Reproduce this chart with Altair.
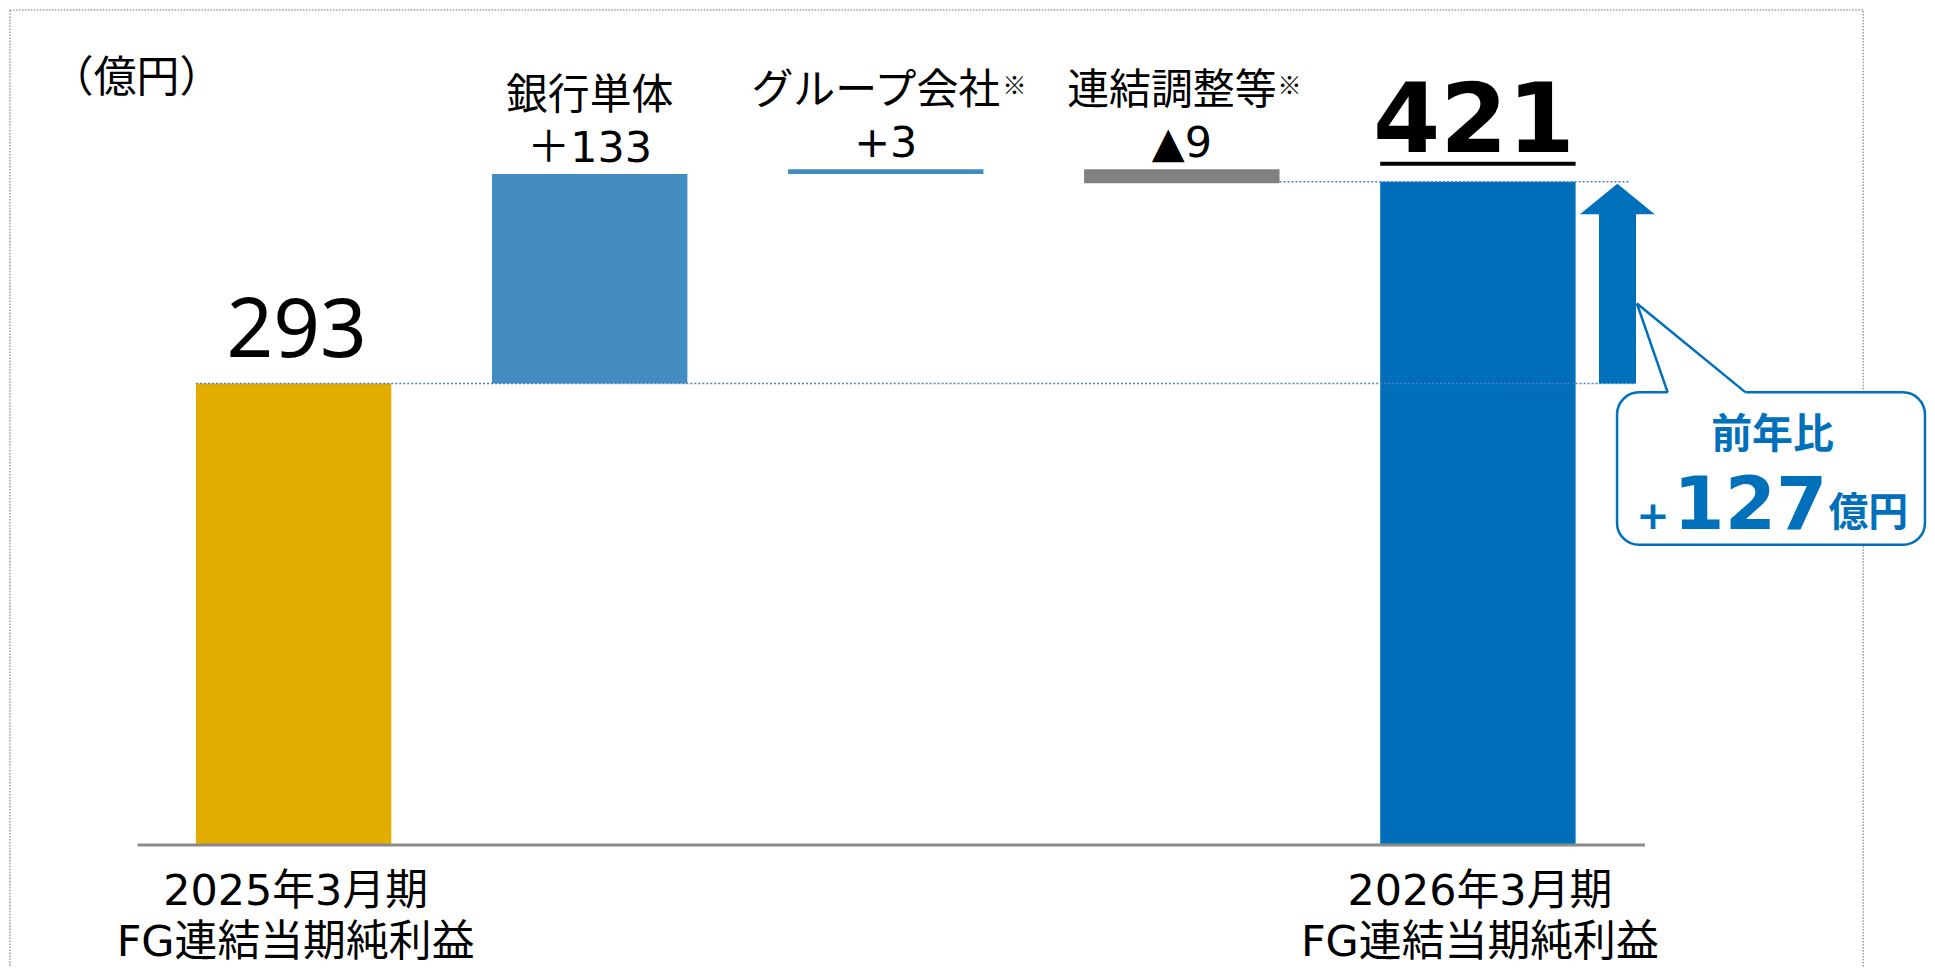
import altair as alt
import pandas as pd

# ---- data ----
categories = ["2025年3月期", "銀行単体", "グループ会社※", "連結調整等※", "2026年3月期"]
sublabels = ["FG連結当期純利益", "＋133", "+3", "▲9", "FG連結当期純利益"]
values = [293, 133, 3, -9, 421]
kinds = ["total", "delta", "delta", "delta", "total"]
bar_colors = ["#E3AC00", "#438CBF", "#438CBF", "#808080", "#006EB9"]
total_labels = ["293", "", "", "", "421"]
unit_label = "（億円）"
yoy_title = "前年比"
yoy_sign = "+"
yoy_value = "127"
yoy_unit = "億円"

# ---- build waterfall table ----
rows = []
running = 0
for i, (c, s, v, k, col, tl) in enumerate(zip(categories, sublabels, values, kinds, bar_colors, total_labels)):
    if k == "total":
        start, end = 0, v
        running = v
    else:
        start, end = running, running + v
        running += v
    note = "※" if c.endswith("※") else ""
    rows.append(dict(idx=i, xs=i - 0.330, xe=i + 0.330, start=start, end=end,
                     top=max(start, end), cat=c, main=c.rstrip("※"), note=note,
                     sub=s, color=col, kind=k, tlabel=tl))
df = pd.DataFrame(rows)
one = pd.DataFrame({"k": [0]})

base_total = values[0]
final_total = values[-1]

X = alt.Scale(domain=[-0.96465, 5.51686], nice=False, zero=False)
Y = alt.Scale(domain=[-76.58, 530.38], nice=False, zero=False)

def xq(field):
    return alt.X(field, type="quantitative", scale=X, axis=None)

def yq(field):
    return alt.Y(field, type="quantitative", scale=Y, axis=None)

def xd(v):
    return alt.XDatum(v, type="quantitative", scale=X, axis=None)

def yd(v):
    return alt.YDatum(v, type="quantitative", scale=Y, axis=None)

BLUE = "#0070BA"
CJK = "Noto Sans CJK JP"
MIX = "DejaVu Sans, Noto Sans CJK JP"
LAT = "DejaVu Sans"

border = alt.Chart(one).mark_rect(fill="transparent", stroke="#9a9a9a", strokeWidth=1.5,
                                  strokeDash=[1.5, 1.5]).encode(
    x=alt.value(2), x2=alt.value(1861), y=alt.value(0.5), y2=alt.value(1300))

bars = alt.Chart(df).mark_bar().encode(
    x=xq("xs"), x2="xe", y=yq("start"), y2="end",
    color=alt.Color("color:N", scale=None))

baseline = alt.Chart(one).mark_rule(color="#8a8a8a", strokeWidth=3).encode(
    x=xd(-0.527), x2=alt.datum(4.564), y=yd(0))

conn_low = alt.Chart(one).mark_rule(color="#4A7FCF", strokeWidth=1.5, strokeDash=[2, 2]).encode(
    x=xd(-0.330), x2=alt.datum(4.534), y=yd(base_total))
conn_high = alt.Chart(one).mark_rule(color="#4A7FCF", strokeWidth=1.5, strokeDash=[2, 2]).encode(
    x=xd(3.330), x2=alt.datum(4.510), y=yd(final_total))

shaft = alt.Chart(one).mark_bar(color=BLUE, y2Offset=32).encode(
    x=xd(4.409), x2=alt.datum(4.534), y=yd(base_total), y2=alt.datum(final_total))
head = alt.Chart(one).mark_point(shape="M-1,0.87L0,0.05L1,0.87Z", size=5625, filled=True,
                                 fill=BLUE, opacity=1, strokeWidth=0).encode(
    x=xd(4.471), y=yd(final_total))

box = alt.Chart(one).mark_rect(cornerRadius=22, fill="white", stroke=BLUE, strokeWidth=2.5).encode(
    x=xd(4.470), x2=alt.datum(5.510), y=yd(287.3), y2=alt.datum(190.5))
gap = alt.Chart(one).mark_rule(color="white", strokeWidth=5, strokeCap="butt").encode(
    x=xd(4.641), x2=alt.datum(4.904), y=yd(287.3))
side1 = alt.Chart(one).mark_rule(color=BLUE, strokeWidth=2.5).encode(
    x=xd(4.537), y=yd(343.7), x2=alt.datum(4.641), y2=alt.datum(287.3))
side2 = alt.Chart(one).mark_rule(color=BLUE, strokeWidth=2.5).encode(
    x=xd(4.537), y=yd(343.7), x2=alt.datum(4.904), y2=alt.datum(287.3))

t_title = alt.Chart(one).mark_text(font=CJK, fontSize=41, fontWeight="bold", color=BLUE,
                                   align="center", baseline="middle").encode(
    x=xd(4.995), y=yd(259.5), text=alt.value(yoy_title))
t_sign = alt.Chart(one).mark_text(font=LAT, fontSize=40, fontWeight="bold", color=BLUE,
                                  align="right", baseline="alphabetic").encode(
    x=xd(4.648), y=yd(200.6), text=alt.value(yoy_sign))
t_val = alt.Chart(one).mark_text(font=LAT, fontSize=74, fontWeight="bold", color=BLUE,
                                 align="right", baseline="alphabetic").encode(
    x=xd(5.180), y=yd(200.6), text=alt.value(yoy_value))
t_unit = alt.Chart(one).mark_text(font=CJK, fontSize=40, fontWeight="bold", color=BLUE,
                                  align="left", baseline="alphabetic").encode(
    x=xd(5.184), y=yd(202.5), text=alt.value(yoy_unit))

# top labels of the change bars (one layer per bar so the small ※ can sit after the name)
LINE1_DY = -65
top_layers = []
for r in rows:
    if r["kind"] != "delta":
        continue
    sel = alt.Chart(df).transform_filter(alt.datum.idx == r["idx"])
    shift = -10 if r["note"] else 0
    top_layers.append(sel.mark_text(font=CJK, fontSize=42, color="black", align="center",
                                    baseline="alphabetic", dy=LINE1_DY, dx=shift).encode(
        x=xq("idx"), y=yq("top"), text="main:N"))
    if r["note"]:
        half_w = len(r["main"]) * 42 / 2
        top_layers.append(sel.mark_text(font=CJK, fontSize=24, color="black", align="left",
                                        baseline="alphabetic", dy=LINE1_DY - 10,
                                        dx=half_w + shift + 1).encode(
            x=xq("idx"), y=yq("top"), text="note:N"))
    top_layers.append(sel.mark_text(font=MIX, fontSize=43, color="black", align="center",
                                    baseline="alphabetic", dy=-12).encode(
        x=xq("idx"), y=yq("top"), text="sub:N"))

first = alt.Chart(df).transform_filter(alt.datum.idx == 0)
last = alt.Chart(df).transform_filter(alt.datum.idx == len(values) - 1)
v_first = first.mark_text(font="Noto Sans", fontSize=82, color="black", align="center",
                          baseline="alphabetic", dy=-26, dx=3).encode(
    x=xq("idx"), y=yq("end"), text="tlabel:N")
v_last = last.mark_text(font=LAT, fontSize=97, fontWeight="bold", color="black", align="center",
                        baseline="alphabetic", dy=-30, dx=-4).encode(
    x=xq("idx"), y=yq("end"), text="tlabel:N")
underline = last.mark_rule(color="black", strokeWidth=4, yOffset=-18).encode(
    x=xq("xs"), x2="xe", y=yq("end"))

totals = alt.Chart(df).transform_filter(alt.datum.kind == "total")
b_line1 = totals.mark_text(font=MIX, fontSize=43, color="black", align="center",
                           baseline="alphabetic", dy=60, dx=2).encode(x=xq("idx"), y=yd(0), text="cat:N")
b_line2 = totals.mark_text(font=MIX, fontSize=43, color="black", align="center",
                           baseline="alphabetic", dy=111, dx=2).encode(x=xq("idx"), y=yd(0), text="sub:N")

unit = alt.Chart(one).mark_text(font=CJK, fontSize=43, color="black", align="left",
                                baseline="alphabetic").encode(
    x=alt.value(43), y=alt.value(83), text=alt.value(unit_label))

chart = alt.layer(
    border, bars, conn_low, conn_high, baseline, shaft, head,
    box, gap, side1, side2, t_title, t_sign, t_val, t_unit,
    *top_layers, v_first, v_last, underline, b_line1, b_line2, unit
).properties(
    width=1925, height=959, padding=0, autosize=alt.AutoSizeParams(type="none"),
    background="white"
).configure_view(strokeWidth=0)

chart.save("out.html", embed_options={"renderer": "svg", "actions": False})
